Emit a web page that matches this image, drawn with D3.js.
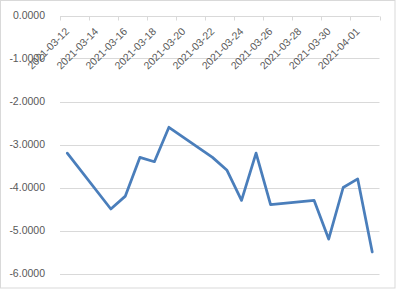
<!DOCTYPE html>
<html><head><meta charset="utf-8">
<script src="https://cdn.jsdelivr.net/npm/d3@7"></script>
<style>body{margin:0;background:#fff}svg{display:block}</style>
</head><body>
<script>
const dates = ["2021-03-12","2021-03-15","2021-03-16","2021-03-17","2021-03-18","2021-03-19","2021-03-22","2021-03-23","2021-03-24","2021-03-25","2021-03-26","2021-03-29","2021-03-30","2021-03-31","2021-04-01","2021-04-02"];
const values = [-3.2,-4.5,-4.2,-3.3,-3.4,-2.6,-3.3,-3.6,-4.3,-3.2,-4.4,-4.3,-5.2,-4.0,-3.8,-5.5];
const yTicks = [0,-1,-2,-3,-4,-5,-6];
const xTickLabels = ["2021-03-12","2021-03-14","2021-03-16","2021-03-18","2021-03-20","2021-03-22","2021-03-24","2021-03-26","2021-03-28","2021-03-30","2021-04-01"];

const W=396,H=289;
const parse=d3.utcParse("%Y-%m-%d");
const DAY=86400000;
const svg=d3.select("body").append("svg").attr("width",W).attr("height",H);
svg.append("rect").attr("x",0.5).attr("y",0.5).attr("width",W-1.5).attr("height",H-1.5).attr("fill","#fff").attr("stroke","#d9d9d9");

const x=d3.scaleUtc().domain([parse("2021-03-12"),parse("2021-04-03")]).range([60,379.5]);
const y=d3.scaleLinear().domain([0,-6]).range([15.5,273.5]);
const font="'Liberation Sans', Arial, sans-serif";

// gridlines
svg.append("g").selectAll("line").data(yTicks.filter(v=>v!==0)).join("line")
  .attr("x1",60).attr("x2",379.5).attr("y1",d=>Math.round(y(d))+0.5).attr("y2",d=>Math.round(y(d))+0.5)
  .attr("stroke","#d9d9d9").attr("stroke-width",1);
// y labels
svg.append("g").selectAll("text").data(yTicks).join("text")
  .attr("x",45).attr("y",d=>y(d)).attr("dy","0.35em").attr("text-anchor","end")
  .attr("font-family",font).attr("font-size","10.5px").attr("fill","#595959")
  .text(d=>d3.format(".4f")(d).replace("−","-"));

// x axis at top (value 0)
const tickDates=d3.range(0,12).map(i=>new Date(parse("2021-03-12").getTime()+i*2*DAY));
const ax=svg.append("g").attr("transform",`translate(0,${Math.round(y(0))+0.5})`);
ax.append("line").attr("x1",60).attr("x2",379.5).attr("stroke","#d9d9d9");
ax.selectAll("line.t").data(tickDates).join("line").attr("class","t")
  .attr("x1",d=>Math.round(x(d))+0.5).attr("x2",d=>Math.round(x(d))+0.5).attr("y1",0).attr("y2",4)
  .attr("stroke","#d9d9d9");
ax.selectAll("text").data(xTickLabels).join("text")
  .attr("transform",d=>`translate(${x(new Date(parse(d).getTime()+DAY/2))},${13}) rotate(-45)`)
  .attr("text-anchor","end").attr("dy","0.35em")
  .attr("font-family",font).attr("font-size","10.5px").attr("fill","#595959")
  .text(d=>d);

// line
const line=d3.line().x((d,i)=>x(new Date(parse(dates[i]).getTime()+DAY/2))).y(d=>y(d));
svg.append("path").datum(values).attr("d",line).attr("fill","none")
  .attr("stroke","#4a7ebb").attr("stroke-width",2.75).attr("stroke-linejoin","round").attr("stroke-linecap","round");
</script>
</body></html>
